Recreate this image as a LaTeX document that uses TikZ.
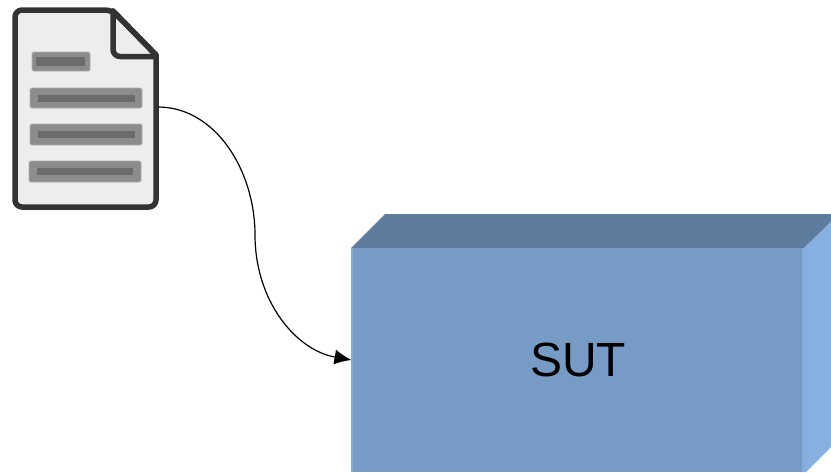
\documentclass[tikz,border=0pt]{standalone}
\usepackage{fontspec}
\setmainfont{Liberation Sans}
\usetikzlibrary{arrows.meta}
\definecolor{sutfront}{HTML}{769BC4}
\definecolor{suttop}{HTML}{5E7D9E}
\definecolor{sutside}{HTML}{86B0E0}
\definecolor{docfill}{HTML}{EDEDED}
\definecolor{docline}{HTML}{333333}
\definecolor{barouter}{HTML}{8C8C8C}
\definecolor{barinner}{HTML}{6B6B6B}
\tikzset{
  anchorbox/.style={inner sep=0pt,outer sep=0pt,minimum width=#1},
  docoutline/.style={draw=docline,line width=5.5pt,line join=round,line cap=round},
  barout/.style={fill=barouter,draw=barouter!70,line width=0.8pt,rounded corners=1.5pt},
  barin/.style={fill=barinner},
  flow/.style={draw=black,line width=1.2pt,-{Latex[length=17pt,width=15pt]}}
}
\begin{document}
\begin{tikzpicture}[x=1pt,y=-1pt]
\useasboundingbox (0,0) rectangle (831,472);
\clip (0,0) rectangle (831,472);
% box faces
\fill[suttop] (351,248) -- (385,214) -- (831,214) -- (831,222) -- (804,248) -- cycle;
\fill[sutside] (804,248) -- (831,222) -- (831,447) -- (806,472) -- (804,472) -- cycle;
\fill[sutfront] (351,248) rectangle (804,472);
\fill[sutside!85!sutfront] (351,248) rectangle (353,472);
\fill[sutside!85!sutfront] (802,248) rectangle (805,472);
\node[anchorbox=453pt,minimum height=224pt,font=\fontsize{48}{50}\selectfont] (sut) at (578,360) {SUT};
% document
\path[docoutline,fill=docfill,rounded corners=7pt] (15,10) -- (112,10) [sharp corners] -- (156,55) [rounded corners=7pt] -- (156,207) -- (15,207) -- cycle;
\draw[docoutline,rounded corners=7pt] (113,11) -- (113,56.5) -- (156,56.5);
\draw[docoutline] (113,11) -- (156,55);
\fill[barout] (32,52) rectangle (90,71);
\fill[barin] (36,57) rectangle (85,66);
\fill[barout] (30,88) rectangle (142,108);
\fill[barin] (38,95) rectangle (135,102);
\fill[barout] (30,124) rectangle (142,145);
\fill[barin] (38,131) rectangle (135,138);
\fill[barout] (29,161) rectangle (141,182);
\fill[barin] (37,168) rectangle (133,175);
\node[anchorbox=146pt,minimum height=206pt] (doc) at (85,107) {};
% connector
\coordinate (bend) at (255,235);
\draw[flow] (doc.east) .. controls (215,107) and (255,170) .. (bend) .. controls (255,300) and (295,350) .. (sut.west);
\end{tikzpicture}
\end{document}
